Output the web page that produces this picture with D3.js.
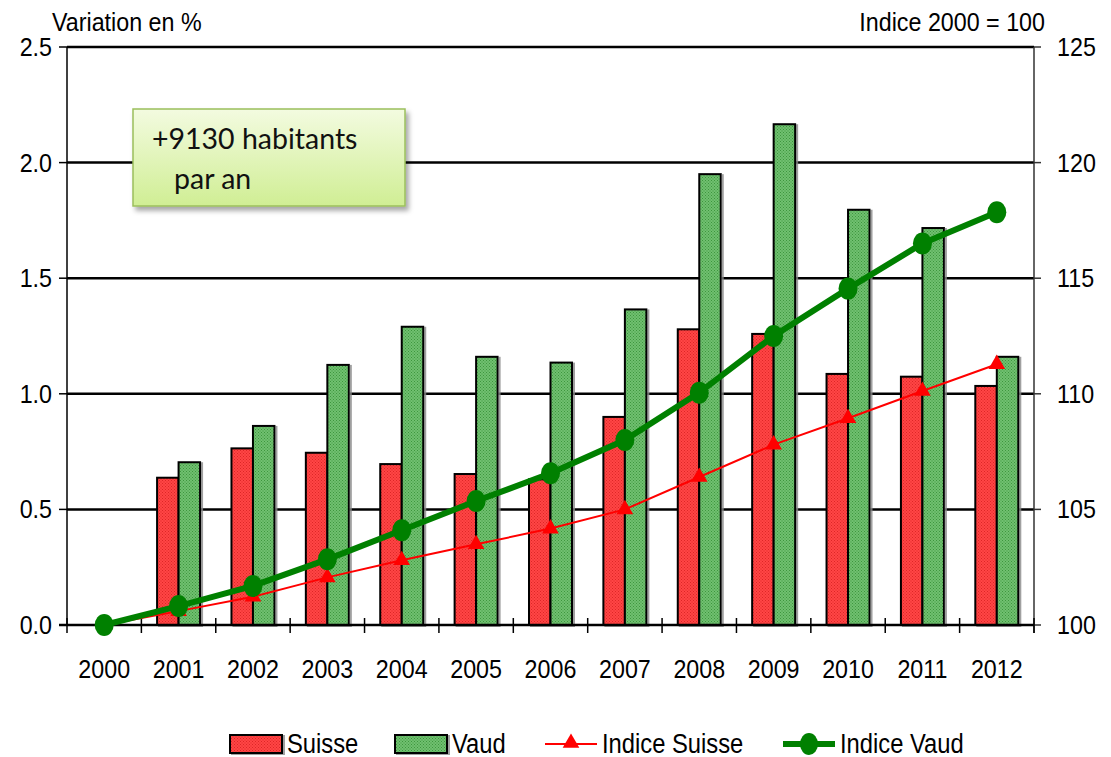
<!DOCTYPE html>
<html>
<head>
<meta charset="utf-8">
<script src="https://cdn.jsdelivr.net/npm/d3@7"></script>
<style>
  body { margin: 0; background: #fff; }
  svg { display: block; font-family: "Liberation Sans", Arial, sans-serif; }
</style>
</head>
<body>
<svg id="chart" width="1111" height="757"></svg>
<script>
// Population growth: yearly variation (bars) and index 2000 = 100 (lines)
const years = ["2000", "2001", "2002", "2003", "2004", "2005", "2006", "2007", "2008", "2009", "2010", "2011", "2012"];
const suisseVar = [null, 0.637, 0.764, 0.745, 0.696, 0.653, 0.63, 0.90, 1.279, 1.259, 1.086, 1.074, 1.034];
const vaudVar = [null, 0.704, 0.861, 1.125, 1.29, 1.16, 1.135, 1.365, 1.95, 2.166, 1.796, 1.717, 1.16];
const suisseIdx = [100, 100.6, 101.22, 102.06, 102.8, 103.49, 104.17, 105.0, 106.4, 107.8, 108.94, 110.12, 111.28];
const vaudIdx = [100, 100.82, 101.69, 102.84, 104.1, 105.36, 106.56, 108.0, 110.05, 112.5, 114.55, 116.5, 117.85];
const leftTicks = [0, 0.5, 1.0, 1.5, 2.0, 2.5];
const rightTicks = [100, 105, 110, 115, 120, 125];

const svg = d3.select("#chart");
const plotL = 67, plotR = 1034, plotT = 47, plotB = 625;
const stretch = "scale(0.97,1.1)"; // the source text is a bit tall and narrow

const x = d3.scaleBand().domain(years).range([plotL, plotR]).padding(0);
const xs = d3.scaleBand().domain(["Suisse", "Vaud"]).range([-21.5, 21.5]);
const yL = d3.scaleLinear().domain([0, 2.5]).range([plotB, plotT]);
const yR = d3.scaleLinear().domain([100, 125]).range([plotB, plotT]);
const cx = d => x(d) + x.bandwidth() / 2;

const defs = svg.append("defs");
function dots(id, base, dot) {
    const p = defs.append("pattern").attr("id", id).attr("width", 3).attr("height", 3)
        .attr("patternUnits", "userSpaceOnUse");
    p.append("rect").attr("width", 3).attr("height", 3).attr("fill", base);
    p.append("rect").attr("width", 1).attr("height", 1).attr("fill", dot);
    p.append("rect").attr("x", 1.5).attr("y", 1.5).attr("width", 1).attr("height", 1).attr("fill", dot);
}
dots("pRed", "#ff4545", "#dc2828");
dots("pGreen", "#70c070", "#3c963c");
defs.append("filter").attr("id", "barShadow").attr("x", "-20%").attr("width", "150%")
    .append("feDropShadow").attr("dx", 2).attr("dy", 1).attr("stdDeviation", 0.6)
    .attr("flood-color", "#888").attr("flood-opacity", 0.8);
const boxGrad = defs.append("linearGradient").attr("id", "boxGrad").attr("x1", 0).attr("y1", 0).attr("x2", 0).attr("y2", 1);
boxGrad.append("stop").attr("offset", "0%").attr("stop-color", "#f3fbe0");
boxGrad.append("stop").attr("offset", "100%").attr("stop-color", "#d0ee94");
defs.append("filter").attr("id", "boxShadow").attr("x", "-10%").attr("y", "-10%").attr("width", "130%").attr("height", "140%")
    .append("feDropShadow").attr("dx", 3).attr("dy", 4).attr("stdDeviation", 2.5)
    .attr("flood-color", "#000").attr("flood-opacity", 0.35);

// gridlines
svg.append("g").selectAll("line").data(leftTicks.slice(1)).join("line")
    .attr("x1", plotL).attr("x2", plotR)
    .attr("y1", d => yL(d)).attr("y2", d => yL(d))
    .attr("stroke", "#000").attr("stroke-width", 2.5);

// bars
const barData = [];
years.forEach((yr, i) => {
    if (suisseVar[i] != null) barData.push({ year: yr, key: "Suisse", v: suisseVar[i] });
    if (vaudVar[i] != null) barData.push({ year: yr, key: "Vaud", v: vaudVar[i] });
});
svg.append("g").attr("filter", "url(#barShadow)").selectAll("rect").data(barData).join("rect")
    .attr("x", d => cx(d.year) + xs(d.key))
    .attr("width", xs.bandwidth())
    .attr("y", d => yL(d.v))
    .attr("height", d => yL(0) - yL(d.v))
    .attr("fill", d => d.key === "Suisse" ? "url(#pRed)" : "url(#pGreen)")
    .attr("stroke", "#000").attr("stroke-width", 2);

// axes
const axisG = svg.append("g");
axisG.append("line").attr("x1", plotL).attr("x2", plotL).attr("y1", plotT).attr("y2", plotB)
    .attr("stroke", "#000").attr("stroke-width", 1.5);
axisG.append("line").attr("x1", plotR).attr("x2", plotR).attr("y1", plotT).attr("y2", plotB + 8)
    .attr("stroke", "#333").attr("stroke-width", 1.5);
axisG.append("line").attr("x1", plotL - 8).attr("x2", plotR).attr("y1", plotB).attr("y2", plotB)
    .attr("stroke", "#000").attr("stroke-width", 2.5);
axisG.selectAll(".lt").data(leftTicks).join("line").attr("class", "lt")
    .attr("x1", plotL - 8).attr("x2", plotL).attr("y1", d => yL(d)).attr("y2", d => yL(d))
    .attr("stroke", "#000").attr("stroke-width", 1.5);
axisG.selectAll(".rt").data(rightTicks).join("line").attr("class", "rt")
    .attr("x1", plotR).attr("x2", plotR + 7).attr("y1", d => yR(d)).attr("y2", d => yR(d))
    .attr("stroke", "#333").attr("stroke-width", 1.5);
axisG.selectAll(".xt").data(years.concat(["end"])).join("line").attr("class", "xt")
    .attr("x1", (d, i) => plotL + i * x.bandwidth()).attr("x2", (d, i) => plotL + i * x.bandwidth())
    .attr("y1", plotB - 7).attr("y2", plotB + 8)
    .attr("stroke", "#000").attr("stroke-width", 1.5);

axisG.selectAll(".ll").data(leftTicks).join("text").attr("class", "ll")
    .attr("transform", d => `translate(52,${yL(d) + 9}) ${stretch}`).attr("text-anchor", "end")
    .attr("font-size", 24).text(d => d.toFixed(1));
axisG.selectAll(".rl").data(rightTicks).join("text").attr("class", "rl")
    .attr("transform", d => `translate(1057,${yR(d) + 9}) ${stretch}`)
    .attr("font-size", 24).text(d => d);
axisG.selectAll(".yl").data(years).join("text").attr("class", "yl")
    .attr("transform", d => `translate(${cx(d)},678) ${stretch}`).attr("text-anchor", "middle")
    .attr("font-size", 24).text(d => d);

svg.append("text").attr("transform", `translate(52,31) ${stretch}`).attr("font-size", 24).text("Variation en %");
svg.append("text").attr("transform", `translate(1045,31) ${stretch}`).attr("text-anchor", "end")
    .attr("font-size", 24).text("Indice 2000 = 100");

// lines
const line = d3.line().x(d => cx(d.year)).y(d => yR(d.v));
const suisseLine = years.map((yr, i) => ({ year: yr, v: suisseIdx[i] }));
const vaudLine = years.map((yr, i) => ({ year: yr, v: vaudIdx[i] }));

svg.append("path").datum(suisseLine).attr("d", line)
    .attr("fill", "none").attr("stroke", "#ff0000").attr("stroke-width", 2);
svg.append("g").selectAll("path").data(suisseLine).join("path")
    .attr("transform", d => `translate(${cx(d.year)},${yR(d.v)})`)
    .attr("d", d3.symbol(d3.symbolTriangle, 120))
    .attr("fill", "#ff0000");

svg.append("path").datum(vaudLine).attr("d", line)
    .attr("fill", "none").attr("stroke", "#008000").attr("stroke-width", 6);
svg.append("g").selectAll("ellipse").data(vaudLine).join("ellipse")
    .attr("cx", d => cx(d.year)).attr("cy", d => yR(d.v))
    .attr("rx", 9.5).attr("ry", 11)
    .attr("fill", "#008000");

// annotation box
const box = svg.append("g");
box.append("rect").attr("x", 133).attr("y", 109).attr("width", 272).attr("height", 97)
    .attr("fill", "url(#boxGrad)").attr("stroke", "#9bbf5c").attr("stroke-width", 1.5)
    .attr("filter", "url(#boxShadow)");
box.append("text").attr("x", 152).attr("y", 149).attr("font-family", "Lato, 'Open Sans', sans-serif")
    .attr("font-size", 28.5).attr("fill", "#111").text("+9130 habitants");
box.append("text").attr("x", 174).attr("y", 189).attr("font-family", "Lato, 'Open Sans', sans-serif")
    .attr("font-size", 28.5).attr("fill", "#111").text("par an");

// legend
const legend = svg.append("g");
const lg = [
    { label: "Suisse", type: "bar", fill: "url(#pRed)", x: 230 },
    { label: "Vaud", type: "bar", fill: "url(#pGreen)", x: 395 },
    { label: "Indice Suisse", type: "tri", x: 545 },
    { label: "Indice Vaud", type: "dot", x: 783 }
];
const ly = 744;
lg.forEach(item => {
    const g = legend.append("g");
    if (item.type === "bar") {
        g.append("rect").attr("x", item.x).attr("y", ly - 9).attr("width", 52).attr("height", 18)
            .attr("fill", item.fill).attr("stroke", "#000").attr("stroke-width", 2)
            .attr("filter", "url(#barShadow)");
    } else if (item.type === "tri") {
        g.append("line").attr("x1", item.x).attr("x2", item.x + 52).attr("y1", ly).attr("y2", ly)
            .attr("stroke", "#ff0000").attr("stroke-width", 2);
        g.append("path").attr("transform", `translate(${item.x + 26},${ly - 1})`)
            .attr("d", d3.symbol(d3.symbolTriangle, 120)).attr("fill", "#ff0000");
    } else {
        g.append("line").attr("x1", item.x).attr("x2", item.x + 52).attr("y1", ly).attr("y2", ly)
            .attr("stroke", "#008000").attr("stroke-width", 6);
        g.append("ellipse").attr("cx", item.x + 26).attr("cy", ly).attr("rx", 9).attr("ry", 11)
            .attr("fill", "#008000");
    }
    g.append("text").attr("transform", `translate(${item.x + 57},${ly + 9}) ${stretch}`)
        .attr("font-size", 24.5).text(item.label);
});
</script>
</body>
</html>
